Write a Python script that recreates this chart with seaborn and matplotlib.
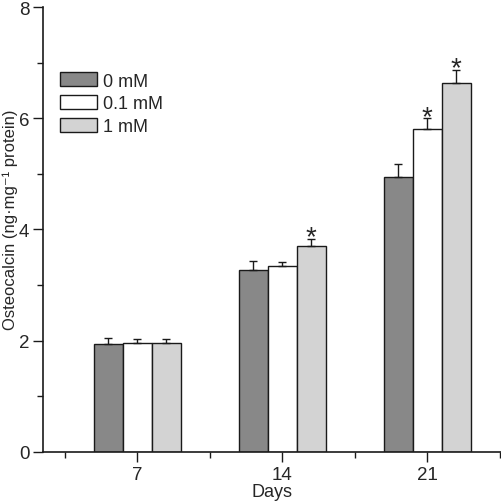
import numpy as np
import pandas as pd
import matplotlib
matplotlib.use('Agg')
import matplotlib.pyplot as plt
import seaborn as sns
from matplotlib.ticker import MultipleLocator, FixedLocator

sns.set_style('ticks')
plt.rcParams['font.family'] = ['Liberation Sans', 'DejaVu Sans']

# --- data ---
days = ['7', '14', '21']
groups = ['0 mM', '0.1 mM', '1 mM']
mean_0 = [1.94, 3.27, 4.94]
mean_01 = [1.95, 3.35, 5.81]
mean_1 = [1.96, 3.70, 6.64]
err_0 = [0.10, 0.16, 0.23]
err_01 = [0.08, 0.06, 0.19]
err_1 = [0.07, 0.13, 0.23]
star_0 = [False, False, False]
star_01 = [False, False, True]
star_1 = [False, True, True]

colors = ['#888888', '#ffffff', '#d3d3d3']

df = pd.DataFrame({
    'Days': days * 3,
    'group': np.repeat(groups, 3),
    'value': mean_0 + mean_01 + mean_1,
    'err': err_0 + err_01 + err_1,
    'star': star_0 + star_01 + star_1,
})

fig = plt.figure(figsize=(5.02, 5.02), dpi=100)
ax = fig.add_axes([0.086, 0.098, 0.912, 0.886])

sns.barplot(data=df, x='Days', y='value', hue='group', order=days, hue_order=groups,
            palette=colors, width=0.6, errorbar=None, edgecolor='#1a1a1a', linewidth=1.0,
            saturation=1, ax=ax)

# error bars (upper only) and asterisks at the bar centres seaborn placed
for bars, g in zip(ax.containers, groups):
    sub = df[df['group'] == g].set_index('Days').loc[days]
    xs = [b.get_x() + b.get_width() / 2 for b in bars]
    ax.errorbar(xs, sub['value'], yerr=[np.zeros(len(xs)), sub['err']], fmt='none',
                ecolor='#1a1a1a', elinewidth=1.0, capsize=3, capthick=1.0)
    for x, v, e, s in zip(xs, sub['value'], sub['err'], sub['star']):
        if s:
            ax.text(x, v + e - 0.1, '*', ha='center', va='baseline', fontsize=20)

ax.set_ylim(0, 8)
ax.set_xlim(-0.65, 2.51)
ax.yaxis.set_major_locator(MultipleLocator(2))
ax.yaxis.set_minor_locator(MultipleLocator(1))
ax.xaxis.set_minor_locator(FixedLocator([-0.5, 0.5, 1.5, 2.5]))
ax.tick_params(which='major', direction='out', length=7, width=1, labelsize=13.5,
               color='#1a1a1a', pad=3)
ax.tick_params(which='minor', direction='out', length=4, width=1, color='#1a1a1a')
for sp in ['top', 'right']:
    ax.spines[sp].set_visible(False)
for sp in ['left', 'bottom']:
    ax.spines[sp].set_linewidth(1.2)
    ax.spines[sp].set_color('#1a1a1a')

ax.set_xlabel('Days', fontsize=13, labelpad=0)
ax.set_ylabel('Osteocalcin (ng\u00b7mg\u207b\u00b9 protein)', fontsize=12, labelpad=3)
ax.yaxis.set_label_coords(-0.056, 0.525)

leg = ax.legend(loc='upper left', bbox_to_anchor=(0.02, 0.87), frameon=False, fontsize=13,
                handlelength=2.1, handleheight=0.85, handletextpad=0.3, labelspacing=0.3,
                borderaxespad=0)

fig.savefig('out.png', dpi=100)
